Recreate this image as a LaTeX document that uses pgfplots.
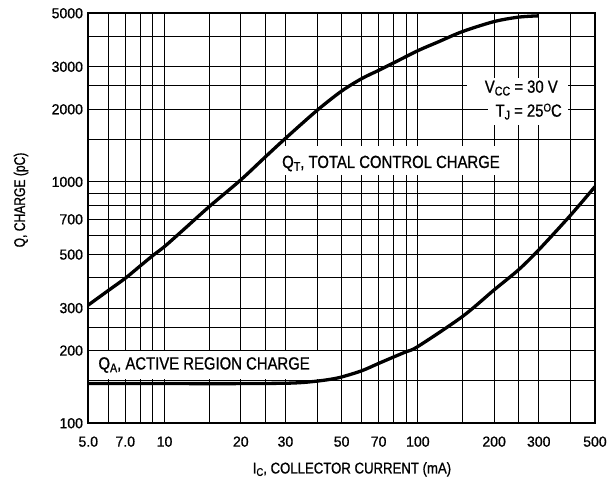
\documentclass[border=0pt]{standalone}
\usepackage{fontspec}
\setmainfont{Liberation Sans}[FakeBold=0.6]
\newfontfamily\tickfont{Liberation Sans}[FakeBold=0.8, FakeStretch=0.97]
\newfontfamily\labfont{Liberation Sans}[FakeStretch=0.85, FakeBold=0.8]
\newfontfamily\ylabfont{Liberation Sans}[FakeStretch=0.78, FakeBold=0.8]
\usepackage{graphicx}
\usepackage{pgfplots}
\pgfplotsset{compat=1.18}
\newcommand\sub[1]{\raisebox{-0.3ex}{\scalebox{0.72}{#1}}}
\newcommand\supo{\raisebox{0.55ex}{\scalebox{0.65}{O}}}
\begin{document}
\begin{tikzpicture}
\begin{axis}[
 scale only axis, width=506.7bp, height=410bp,
 xmode=log, ymode=log,
 xmin=5, xmax=500, ymin=100, ymax=5000,
 xtick={5,7,10,20,30,50,70,100,200,300,500},
 xticklabels={5.0,7.0,10,20,30,50,70,100,200,300,500},
 minor xtick={6,8,9,15,25,40,60,80,90,150,250,400},
 ytick={100,200,300,500,700,1000,2000,3000,5000},
 yticklabels={100,200,300,500,700,1000,2000,3000,5000},
 minor ytick={150,250,400,600,800,900,1500,2500,4000},
 grid=both,
 major grid style={black, line width=0.95bp},
 minor grid style={black, line width=0.95bp},
 major tick length=0pt, minor tick length=0pt,
 axis line style={black, line width=1.8bp},
 ticklabel style={font=\tickfont\fontsize{14.5bp}{16bp}\selectfont},
 xticklabel style={anchor=base, yshift=-23.4bp},
 yticklabel style={xshift=-1.8bp},
]
% white label backgrounds
\fill[white] (rel axis cs:0.3701,0.6056) rectangle (rel axis cs:0.8244,0.6763);
\fill[white] (rel axis cs:0.0024,0.1080) rectangle (rel axis cs:0.4533,0.1763);
\fill[white] (rel axis cs:0.7474,0.7934) rectangle (rel axis cs:0.9467,0.8422);
\fill[white] (rel axis cs:0.7888,0.7276) rectangle (rel axis cs:0.9467,0.7934);
\node[anchor=base west, inner sep=0, font=\labfont\fontsize{17.5bp}{19bp}\selectfont]
  at (rel axis cs:0.3823,0.6227) {Q\sub{T}, TOTAL CONTROL CHARGE};
\node[anchor=base west, inner sep=0, font=\labfont\fontsize{17.5bp}{19bp}\selectfont]
  at (rel axis cs:0.0197,0.1312) {Q\sub{A}, ACTIVE REGION CHARGE};
\node[anchor=base east, inner sep=0, font=\labfont\fontsize{17.5bp}{19bp}\selectfont]
  at (rel axis cs:0.9270,0.8063) {V\sub{CC} = 30 V};
\node[anchor=base east, inner sep=0, font=\labfont\fontsize{17.5bp}{19bp}\selectfont]
  at (rel axis cs:0.9349,0.7478) {T\sub{J} = 25\supo C};
% Q_T total control charge
\addplot[black, line width=3.3bp, smooth] coordinates {
 (5,309) (6,355) (7,399) (8,448) (9,496) (10,540) (12,640) (15,790)
 (20,1020) (25,1270) (30,1515) (40,1980) (50,2380) (60,2680) (70,2900)
 (80,3110) (100,3500) (120,3800) (150,4200) (200,4620) (250,4820) (300,4880)
};
% Q_A active region charge
\addplot[black, line width=3.3bp, smooth] coordinates {
 (5,146) (10,146) (20,146) (30,146.5) (35,147.5) (40,149.5) (45,152)
 (50,155.5) (60,165) (70,177) (80,188) (90,198) (100,208) (150,277)
 (200,357) (250,433) (300,523) (400,727) (500,956)
};
\end{axis}
\begin{scope}[shift={(current axis.south west)}, x=1bp, y=1bp]
\path (-88.3,-55.7) rectangle (521.7,423.3);
\node[anchor=base, inner sep=0, font=\labfont\fontsize{15.5bp}{17bp}\selectfont]
  at (263.7,-50.2) {I\sub{C}, COLLECTOR CURRENT (mA)};
\node[anchor=base, rotate=90, inner sep=0, font=\ylabfont\fontsize{15.5bp}{17bp}\selectfont]
  at (-63.3,223.3) {Q, CHARGE (pC)};
\end{scope}
\end{tikzpicture}
\end{document}
